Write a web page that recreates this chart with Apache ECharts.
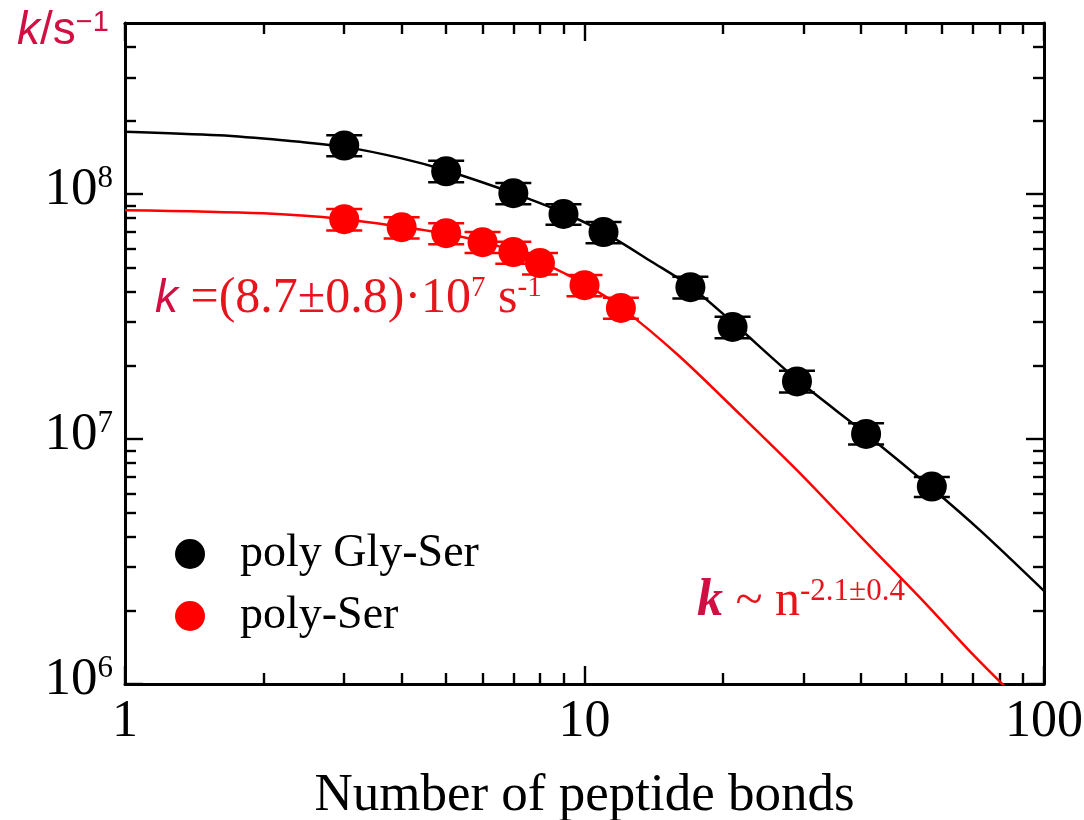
<!DOCTYPE html>
<html>
<head>
<meta charset="utf-8">
<script src="https://cdn.jsdelivr.net/npm/echarts@6/dist/echarts.min.js"></script>
<style>
  html, body { margin: 0; padding: 0; background: #fff; }
  #chart { width: 1084px; height: 820px; }
</style>
</head>
<body>
<div id="chart"></div>
<script>
    // measured points (n = number of peptide bonds, k in 1/s)
    const glySerN = [3, 5, 7, 9, 11, 17, 21, 29, 41, 57];
    const glySerK = [1.58e8, 1.24e8, 1.01e8, 8.3e7, 7.0e7, 4.17e7, 2.87e7, 1.72e7, 1.05e7, 6.4e6];
    const glySerLo = [1.43e8, 1.12e8, 0.91e8, 7.5e7, 6.3e7, 3.75e7, 2.58e7, 1.55e7, 0.95e7, 5.8e6];
    const glySerHi = [1.74e8, 1.37e8, 1.11e8, 9.1e7, 7.7e7, 4.6e7, 3.16e7, 1.9e7, 1.16e7, 7.0e6];

    const serN = [3, 4, 5, 6, 7, 8, 10, 12];
    const serK = [7.9e7, 7.33e7, 6.93e7, 6.37e7, 5.8e7, 5.23e7, 4.25e7, 3.43e7];
    const serLo = [7.1e7, 6.6e7, 6.25e7, 5.75e7, 5.2e7, 4.7e7, 3.83e7, 3.1e7];
    const serHi = [8.7e7, 8.05e7, 7.6e7, 7.0e7, 6.4e7, 5.75e7, 4.68e7, 3.78e7];

    // fitted curves
    const glySerFitN = [1, 1.6, 2.2, 3, 4, 5, 7, 9, 11, 14, 17, 21, 29, 41, 57, 73, 100];
    const glySerFitK = [1.80e8, 1.74e8, 1.66e8, 1.56e8, 1.40e8, 1.25e8, 1.01e8, 8.4e7, 7.0e7, 5.3e7, 4.2e7, 3.0e7, 1.75e7, 1.05e7, 6.3e6, 4.2e6, 2.4e6];
    const serFitN = [1, 2, 3, 4, 5, 6, 7, 8, 10, 12, 16, 22, 30, 40, 55, 70, 82];
    const serFitK = [8.6e7, 8.35e7, 7.9e7, 7.35e7, 6.9e7, 6.4e7, 5.85e7, 5.3e7, 4.3e7, 3.45e7, 2.2e7, 1.24e7, 7.0e6, 3.98e6, 2.15e6, 1.32e6, 0.98e6];

    // ticks
    const xMajorTicks = [1, 10, 100];
    const xMinorTicks = [2, 3, 4, 5, 6, 7, 8, 9, 20, 30, 40, 50, 60, 70, 80, 90];
    const yMajorTicks = [1e6, 1e7, 1e8];
    const yMinorTicks = [2e6, 3e6, 4e6, 5e6, 6e6, 7e6, 8e6, 9e6, 2e7, 3e7, 4e7, 5e7, 6e7, 7e7, 8e7, 9e7, 2e8, 3e8, 4e8];

    const SERIF = '"Liberation Serif", "DejaVu Serif", serif';
    const SANS = '"Liberation Sans", Arial, sans-serif';
    const RED = '#ff0000';
    const TEXT_RED = '#e8141c';
    const K_RED = '#d20f42';

    const chart = echarts.init(document.getElementById('chart'));

    function zip(a, b) {
        return a.map((v, i) => [v, b[i]]);
    }
    function zip3(a, b, c) {
        return a.map((v, i) => [v, b[i], c[i]]);
    }

    function errorBars(params, api) {
        const lo = api.coord([api.value(0), api.value(1)]);
        const hi = api.coord([api.value(0), api.value(2)]);
        const w = 18;
        const style = { stroke: api.visual('color'), lineWidth: 2.5 };
        return {
            type: 'group',
            children: [
                { type: 'line', shape: { x1: lo[0], y1: lo[1], x2: hi[0], y2: hi[1] }, style: style },
                { type: 'line', shape: { x1: lo[0] - w, y1: lo[1], x2: lo[0] + w, y2: lo[1] }, style: style },
                { type: 'line', shape: { x1: hi[0] - w, y1: hi[1], x2: hi[0] + w, y2: hi[1] }, style: style }
            ]
        };
    }

    function xAxisDef(pos, ticks, len, showLine, showLabel) {
        return {
            type: 'log',
            logBase: 10,
            min: 1,
            max: 100,
            position: pos,
            axisLine: { show: showLine, lineStyle: { color: '#000', width: 3 } },
            axisTick: { show: true, inside: true, length: len, customValues: ticks, lineStyle: { color: '#000', width: 2.4 } },
            axisLabel: {
                show: showLabel,
                customValues: xMajorTicks,
                margin: 12,
                fontFamily: SERIF,
                fontSize: 52,
                color: '#000'
            },
            splitLine: { show: false },
            minorTick: { show: false }
        };
    }

    function yAxisDef(pos, ticks, len, showLine, showLabel) {
        return {
            type: 'log',
            logBase: 10,
            min: 1e6,
            max: 5e8,
            position: pos,
            axisLine: { show: showLine, lineStyle: { color: '#000', width: 3 } },
            axisTick: { show: true, inside: true, length: len, customValues: ticks, lineStyle: { color: '#000', width: 2.4 } },
            axisLabel: {
                show: showLabel,
                customValues: yMajorTicks,
                margin: 12,
                formatter: function (v) {
                    return '{b|10}{s|' + Math.round(Math.log10(v)) + '}';
                },
                rich: {
                    b: { fontFamily: SERIF, fontSize: 53, color: '#000', padding: [0, 0, 8, 0] },
                    s: { fontFamily: SERIF, fontSize: 31, color: '#000', verticalAlign: 'top', padding: [0, 0, 14, 0] }
                }
            },
            splitLine: { show: false },
            minorTick: { show: false }
        };
    }

    const xAxes = [
        xAxisDef('bottom', xMajorTicks, 18, true, true),
        xAxisDef('bottom', xMinorTicks, 11, false, false),
        xAxisDef('top', xMajorTicks, 18, true, false),
        xAxisDef('top', xMinorTicks, 11, false, false)
    ];
    xAxes[0].name = 'Number of peptide bonds';
    xAxes[0].nameLocation = 'middle';
    xAxes[0].nameGap = 86;
    xAxes[0].nameTextStyle = { fontFamily: SERIF, fontSize: 53, color: '#000' };

    const yAxes = [
        yAxisDef('left', yMajorTicks, 18, true, true),
        yAxisDef('left', yMinorTicks, 11, false, false),
        yAxisDef('right', yMajorTicks, 18, true, false),
        yAxisDef('right', yMinorTicks, 11, false, false)
    ];

    const option = {
        animation: false,
        backgroundColor: '#fff',
        grid: { left: 125, right: 40, top: 23, bottom: 136, containLabel: false, outerBoundsMode: 'none' },
        xAxis: xAxes,
        yAxis: yAxes,
        legend: {
            data: ['poly Gly-Ser', 'poly-Ser'],
            orient: 'vertical',
            left: 170,
            top: 526,
            icon: 'circle',
            itemWidth: 90,
            itemHeight: 30,
            itemGap: 16,
            textStyle: { fontFamily: SERIF, fontSize: 46, color: '#000', lineHeight: 40 }
        },
        graphic: [
            {
                type: 'text',
                left: 17,
                top: 8,
                style: {
                    text: '{k|k}{n|/s}{s|−1}',
                    rich: {
                        k: { fontFamily: SANS, fontStyle: 'italic', fontSize: 46, fill: K_RED },
                        n: { fontFamily: SANS, fontSize: 46, fill: K_RED },
                        s: { fontFamily: SANS, fontSize: 29, fill: K_RED, verticalAlign: 'top' }
                    }
                }
            },
            {
                type: 'text',
                left: 155,
                top: 274,
                style: {
                    text: '{k|k}{t| =(8.7±0.8)·10}{s|7}{t| s}{s|-1}',
                    rich: {
                        k: { fontFamily: SANS, fontStyle: 'italic', fontSize: 46, fill: K_RED },
                        t: { fontFamily: SERIF, fontSize: 50, fill: TEXT_RED },
                        s: { fontFamily: SERIF, fontSize: 29, fill: TEXT_RED, verticalAlign: 'top' }
                    }
                }
            },
            {
                type: 'text',
                left: 697,
                top: 576,
                style: {
                    text: '{k|k}{t| ~ n}{s|-2.1±0.4}',
                    rich: {
                        k: { fontFamily: SERIF, fontStyle: 'italic', fontWeight: 'bold', fontSize: 52, fill: K_RED },
                        t: { fontFamily: SERIF, fontSize: 50, fill: TEXT_RED },
                        s: { fontFamily: SERIF, fontSize: 31, fill: TEXT_RED, verticalAlign: 'top' }
                    }
                }
            }
        ],
        series: [
            {
                name: 'fit Gly-Ser',
                type: 'line',
                data: zip(glySerFitN, glySerFitK),
                smooth: 0.3,
                showSymbol: false,
                lineStyle: { color: '#000', width: 2.5 },
                z: 2
            },
            {
                name: 'fit Ser',
                type: 'line',
                data: zip(serFitN, serFitK),
                smooth: 0.3,
                showSymbol: false,
                lineStyle: { color: RED, width: 2.5 },
                z: 2
            },
            {
                name: 'err Gly-Ser',
                type: 'custom',
                renderItem: errorBars,
                itemStyle: { color: '#000' },
                data: zip3(glySerN, glySerLo, glySerHi),
                z: 3
            },
            {
                name: 'err Ser',
                type: 'custom',
                renderItem: errorBars,
                itemStyle: { color: RED },
                data: zip3(serN, serLo, serHi),
                z: 3
            },
            {
                name: 'poly Gly-Ser',
                type: 'scatter',
                data: zip(glySerN, glySerK),
                symbol: 'circle',
                symbolSize: 30,
                itemStyle: { color: '#000', opacity: 1 },
                z: 4
            },
            {
                name: 'poly-Ser',
                type: 'scatter',
                data: zip(serN, serK),
                symbol: 'circle',
                symbolSize: 30,
                itemStyle: { color: RED, opacity: 1 },
                z: 4
            }
        ]
    };

    chart.setOption(option);
</script>
</body>
</html>
